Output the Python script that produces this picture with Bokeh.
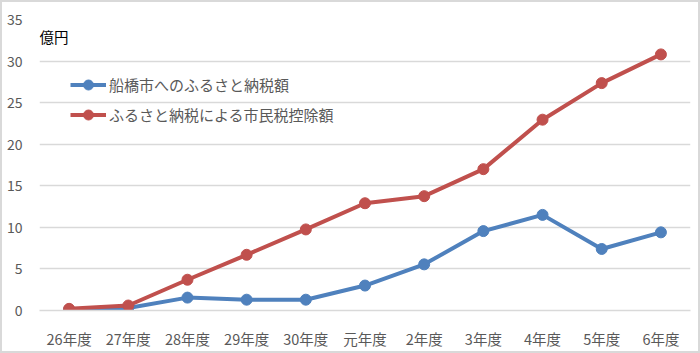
from bokeh.plotting import figure
from bokeh.layouts import column
from bokeh.models import Legend, LegendItem, Label, FixedTicker, FactorRange, Range1d
from bokeh.embed import file_html
from bokeh.resources import INLINE

years = ["26年度", "27年度", "28年度", "29年度", "30年度", "元年度", "2年度", "3年度", "4年度", "5年度", "6年度"]
furusato = [0.1, 0.3, 1.55, 1.3, 1.3, 3.0, 5.55, 9.55, 11.5, 7.4, 9.4]
kojo = [0.2, 0.6, 3.7, 6.7, 9.75, 12.9, 13.75, 17.0, 22.95, 27.35, 30.8]
y_ticks = [0, 5, 10, 15, 20, 25, 30, 35]
label_blue = "船橋市へのふるさと納税額"
label_red = "ふるさと納税による市民税控除額"
unit = "億円"

FONT = "Noto Sans CJK JP"
BLUE = "#4F81BD"
RED = "#C0504D"
GRID = "#D9D9D9"

p = figure(width=696, height=349, x_range=FactorRange(*years, range_padding=0),
           y_range=Range1d(0, 35), output_backend="svg", toolbar_location=None,
           min_border_left=37, min_border_right=8, min_border_top=17, min_border_bottom=38)
p.outline_line_color = None
p.background_fill_color = "white"
p.border_fill_color = "white"

p.xgrid.grid_line_color = None
p.ygrid.grid_line_color = GRID
p.ygrid.grid_line_width = 1.3
p.yaxis.ticker = FixedTicker(ticks=y_ticks)
p.yaxis.axis_line_color = None
p.yaxis.major_tick_line_color = None
p.yaxis.minor_tick_line_color = None
p.yaxis.major_label_text_font = FONT
p.yaxis.major_label_text_font_size = "14px"
p.yaxis.major_label_text_color = "#595959"
p.yaxis.major_label_standoff = 11

p.xaxis.axis_line_color = GRID
p.xaxis.axis_line_width = 1.3
p.xaxis.major_tick_line_color = None
p.xaxis.minor_tick_line_color = None
p.xaxis.major_label_text_font = FONT
p.xaxis.major_label_text_font_size = "14.5px"
p.xaxis.major_label_text_color = "#595959"
p.xaxis.major_label_standoff = 11

lb = p.line(years, furusato, line_color=BLUE, line_width=4)
sb = p.scatter(years, furusato, size=11, fill_color=BLUE, line_color=BLUE)
lr = p.line(years, kojo, line_color=RED, line_width=4)
sr = p.scatter(years, kojo, size=11, fill_color=RED, line_color=RED)

legend = Legend(items=[LegendItem(label=label_blue, renderers=[lb, sb]),
                       LegendItem(label=label_red, renderers=[lr, sr])],
                location=(31, 183), glyph_width=36, glyph_height=25, label_height=25,
                label_standoff=3, spacing=5, padding=0, border_line_color=None,
                background_fill_alpha=0, label_text_font=FONT, label_text_font_size="15px",
                label_text_color="#595959", margin=0)
p.add_layout(legend)

p.add_layout(Label(x=0, y=33, x_units="screen", text=unit, text_font=FONT,
                   text_font_size="14.5px", text_color="black", text_baseline="middle"))

layout = column(p, styles={"border": "2px solid #D9D9D9"})
open("out.html", "w").write(file_html(layout, INLINE))
